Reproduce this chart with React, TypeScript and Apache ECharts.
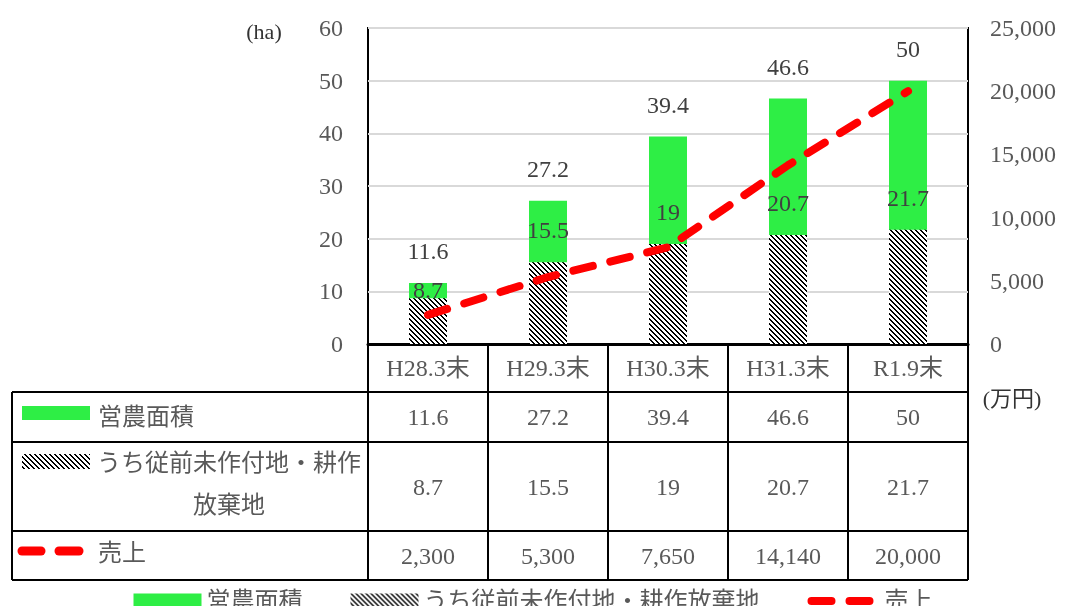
import React, { useEffect, useRef } from 'react';
import * as echarts from 'echarts';

const categories = ['H28.3末', 'H29.3末', 'H30.3末', 'H31.3末', 'R1.9末'];
const farmArea = [11.6, 27.2, 39.4, 46.6, 50];
const idleArea = [8.7, 15.5, 19, 20.7, 21.7];
const sales = [2300, 5300, 7650, 14140, 20000];
const seriesNames = ['営農面積', 'うち従前未作付地・耕作放棄地', '売上'];
const leftUnit = '(ha)';
const rightUnit = '(万円)';

const FONT = "'Liberation Serif', 'Noto Sans CJK JP', serif";
const GREEN = '#2EEE45';
const RED = '#FF0000';
const TXT = '#595959';

const W = 1066;
const H = 606;
const GL = 368;
const GR = 968;
const GT = 28;
const GB = 344;

function makeHatch(): HTMLCanvasElement {
  const n = 5;
  const c = document.createElement('canvas');
  c.width = n;
  c.height = n;
  const ctx = c.getContext('2d')!;
  ctx.fillStyle = '#ffffff';
  ctx.fillRect(0, 0, n, n);
  ctx.fillStyle = '#000000';
  for (let y = 0; y < n; y++) {
    for (let x = 0; x < n; x++) {
      const d = (((x - y) % n) + n) % n;
      if (d === 0 || d === 1) ctx.fillRect(x, y, 1, 1);
    }
  }
  return c;
}

const fmt = (v: number) => v.toLocaleString('en-US');

export default function App() {
  const ref = useRef<HTMLDivElement>(null);
  useEffect(() => {
    if (!ref.current) return;
    const chart = echarts.init(ref.current, null, { renderer: 'svg' });
    const hatchCanvas = makeHatch();
    const hatch: any = { image: hatchCanvas, repeat: 'repeat', imageWidth: 5, imageHeight: 5 };

    const colW = (GR - GL) / categories.length;
    const rowTops = [392, 442, 531, 580];
    const lineStyle = { stroke: '#000', lineWidth: 2 };
    const graphics: any[] = [];
    rowTops.forEach((y) => {
      graphics.push({ type: 'line', shape: { x1: 12, y1: y, x2: GR, y2: y }, style: lineStyle, silent: true });
    });
    graphics.push({ type: 'line', shape: { x1: 12, y1: rowTops[0], x2: 12, y2: rowTops[3] }, style: lineStyle });
    for (let i = 0; i <= categories.length; i++) {
      const x = GL + colW * i;
      graphics.push({ type: 'line', shape: { x1: x, y1: GB, x2: x, y2: rowTops[3] }, style: lineStyle });
    }
    const rowValues = [farmArea.map(String), idleArea.map(String), sales.map(fmt)];
    rowValues.forEach((vals, r) => {
      const cy = (rowTops[r] + rowTops[r + 1]) / 2;
      vals.forEach((v, i) => {
        graphics.push({
          type: 'text',
          x: GL + colW * (i + 0.5),
          y: cy,
          style: { text: v, font: `24px ${FONT}`, fill: TXT, align: 'center', verticalAlign: 'middle' },
        });
      });
    });
    graphics.push({ type: 'rect', shape: { x: 22, y: 406, width: 68, height: 14 }, style: { fill: GREEN } });
    graphics.push({
      type: 'text', x: 98, y: 417,
      style: { text: seriesNames[0], font: `24px ${FONT}`, fill: TXT, align: 'left', verticalAlign: 'middle' },
    });
    graphics.push({ type: 'rect', shape: { x: 22, y: 454, width: 68, height: 15 }, style: { fill: hatch } });
    graphics.push({
      type: 'text', x: 229, y: 484,
      style: {
        text: 'うち従前未作付地・耕作\n放棄地', font: `24px ${FONT}`, fill: TXT,
        align: 'center', verticalAlign: 'middle', lineHeight: 42,
      },
    });
    graphics.push({ type: 'line', shape: { x1: 22, y1: 551, x2: 41, y2: 551 }, style: { stroke: RED, lineWidth: 9, lineCap: 'round' } });
    graphics.push({ type: 'line', shape: { x1: 59, y1: 551, x2: 79, y2: 551 }, style: { stroke: RED, lineWidth: 9, lineCap: 'round' } });
    graphics.push({
      type: 'text', x: 98, y: 553,
      style: { text: seriesNames[2], font: `24px ${FONT}`, fill: TXT, align: 'left', verticalAlign: 'middle' },
    });
    graphics.push({
      type: 'text', x: 264, y: 31,
      style: { text: leftUnit, font: `22px ${FONT}`, fill: '#333', align: 'center', verticalAlign: 'middle' },
    });
    graphics.push({
      type: 'text', x: 1012, y: 398,
      style: { text: rightUnit, font: `22px ${FONT}`, fill: '#333', align: 'center', verticalAlign: 'middle' },
    });

    const labelBase = { show: true, position: 'top', distance: 20, fontSize: 24, color: '#404040', fontFamily: FONT };

    chart.setOption({
      animation: false,
      textStyle: { fontFamily: FONT },
      grid: {
        left: GL, right: W - GR, top: GT, bottom: H - GB,
        show: true, borderColor: '#000', borderWidth: 2, backgroundColor: 'transparent',
      },
      legend: {
        left: 'center', top: 584, itemWidth: 68, itemHeight: 15, itemGap: 48,
        textStyle: { fontSize: 24, color: TXT, fontFamily: FONT },
        data: [
          { name: seriesNames[0], icon: 'rect' },
          { name: seriesNames[1], icon: 'rect' },
          {
            name: seriesNames[2],
            itemStyle: { color: 'rgba(0,0,0,0)', borderColor: 'rgba(0,0,0,0)', borderWidth: 0 },
            lineStyle: { color: RED, width: 8, type: [20, 18], cap: 'round' },
          },
        ],
      },
      xAxis: {
        type: 'category', data: categories,
        axisLine: { lineStyle: { color: '#000', width: 3 } },
        axisTick: { show: false },
        axisLabel: { margin: 12, fontSize: 24, color: TXT, fontFamily: FONT },
      },
      yAxis: [
        {
          type: 'value', min: 0, max: 60, interval: 10,
          axisLine: { show: false }, axisTick: { show: false },
          axisLabel: { margin: 25, fontSize: 24, color: TXT, fontFamily: FONT },
          splitLine: { lineStyle: { color: '#d9d9d9', width: 2 } },
        },
        {
          type: 'value', min: 0, max: 25000, interval: 5000, position: 'right',
          axisLine: { show: false }, axisTick: { show: false },
          axisLabel: { margin: 22, fontSize: 24, color: TXT, fontFamily: FONT, formatter: (v: number) => fmt(v) },
          splitLine: { show: false },
        },
      ],
      series: [
        {
          name: seriesNames[0], type: 'bar', data: farmArea, barWidth: 38,
          itemStyle: { color: GREEN }, label: labelBase, z: 2,
        },
        {
          name: seriesNames[1], type: 'bar', barGap: '-100%', barWidth: 38,
          data: idleArea.map((v, i) => (i === 0 ? { value: v, label: { offset: [0, 24] } } : v)),
          itemStyle: { color: hatch }, label: labelBase, z: 3,
        },
        {
          name: seriesNames[2], type: 'line', yAxisIndex: 1, data: sales, symbol: 'none',
          lineStyle: { color: RED, width: 8, type: [20, 18], cap: 'round' },
          itemStyle: { color: RED }, z: 5,
        },
      ],
      graphic: graphics,
    });
    return () => chart.dispose();
  }, []);
  return <div ref={ref} style={{ position: 'fixed', left: 0, top: 0, width: W, height: H }} />;
}
